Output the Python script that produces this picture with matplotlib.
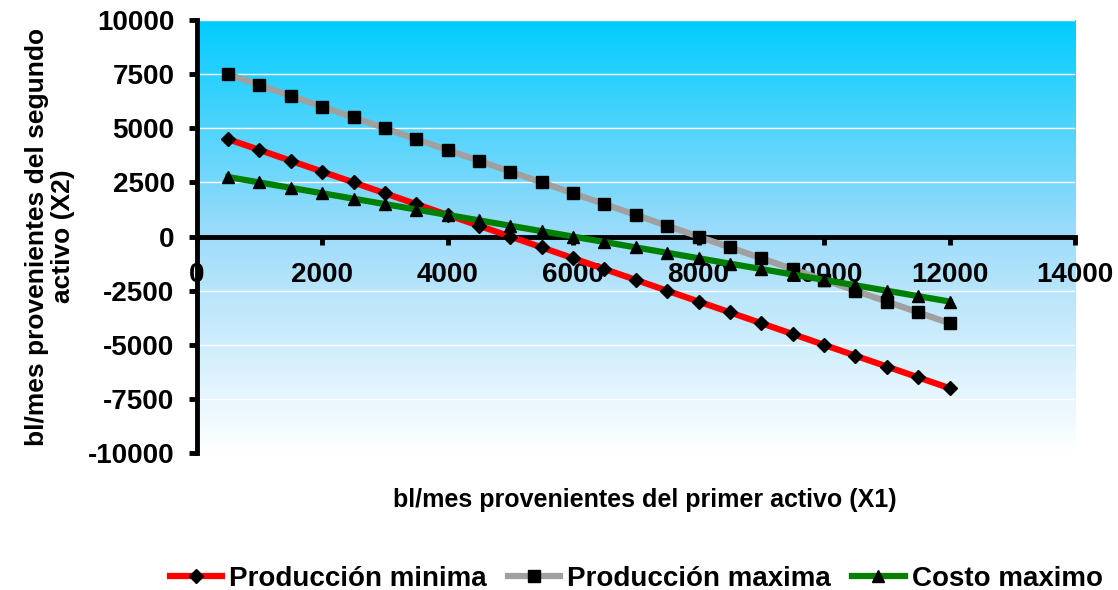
import numpy as np
import matplotlib
matplotlib.use('Agg')
import matplotlib.pyplot as plt
from matplotlib.colors import LinearSegmentedColormap

plt.rcParams['font.family'] = ['Liberation Sans', 'DejaVu Sans']
plt.rcParams['font.weight'] = 'bold'
plt.rcParams['axes.unicode_minus'] = False

x1 = [500, 1000, 1500, 2000, 2500, 3000, 3500, 4000, 4500, 5000, 5500, 6000,
      6500, 7000, 7500, 8000, 8500, 9000, 9500, 10000, 10500, 11000, 11500, 12000]
prod_min = [4500, 4000, 3500, 3000, 2500, 2000, 1500, 1000, 500, 0, -500, -1000,
            -1500, -2000, -2500, -3000, -3500, -4000, -4500, -5000, -5500, -6000, -6500, -7000]
prod_max = [7500, 7000, 6500, 6000, 5500, 5000, 4500, 4000, 3500, 3000, 2500, 2000,
            1500, 1000, 500, 0, -500, -1000, -1500, -2000, -2500, -3000, -3500, -4000]
costo_max = [2750, 2500, 2250, 2000, 1750, 1500, 1250, 1000, 750, 500, 250, 0,
             -250, -500, -750, -1000, -1250, -1500, -1750, -2000, -2250, -2500, -2750, -3000]

fig = plt.figure(figsize=(11.18, 5.9), dpi=100)
ax = fig.add_axes([0.176, 0.232, 0.7855, 0.734])

# fondo degradado
cmap = LinearSegmentedColormap.from_list('bg', ['#ffffff', '#9fdcfa', '#00ccff'])
grad = np.linspace(0, 1, 256).reshape(-1, 1)
ax.imshow(grad, cmap=cmap, aspect='auto', origin='lower',
          extent=[0, 1, 0, 1], transform=ax.transAxes, zorder=0)

ax.set_xlim(0, 14000)
ax.set_ylim(-10000, 10000)
ax.set_xticks(range(0, 14001, 2000))
ax.set_yticks(range(-10000, 10001, 2500))
ax.yaxis.grid(True, color='white', linewidth=1)
ax.set_axisbelow(True)

ax.plot(x1, prod_min, color='red', lw=4.5, marker='D', ms=7, mfc='black', mec='black',
        label='Producción minima', zorder=3)
ax.plot(x1, prod_max, color='#a0a0a0', lw=4.5, marker='s', ms=8, mfc='black', mec='black',
        label='Producción maxima', zorder=3)
ax.plot(x1, costo_max, color='green', lw=4.5, marker='^', ms=9, mfc='black', mec='black',
        label='Costo maximo', zorder=3)

ax.spines['top'].set_visible(False)
ax.spines['right'].set_visible(False)
ax.spines['bottom'].set_position(('data', 0))
ax.spines['bottom'].set_linewidth(3.5)
ax.spines['left'].set_linewidth(3.5)
ax.spines['bottom'].set_zorder(2)

ax.tick_params(axis='x', direction='out', length=6, width=3.5, pad=12, labelsize=20)
ax.tick_params(axis='y', direction='out', length=6, width=3.5, pad=10, labelsize=20)
for lbl in ax.get_xticklabels() + ax.get_yticklabels():
    lbl.set_fontweight('bold')

ax.set_xlabel('bl/mes provenientes del primer activo (X1)', fontsize=18, fontweight='bold')
ax.xaxis.set_label_coords(0.51, -0.08)
ax.set_ylabel('bl/mes provenientes del segundo\nactivo (X2)', fontsize=19, fontweight='bold',
              linespacing=1.1)
ax.yaxis.set_label_coords(-0.139, 0.5)

fig.legend(loc='lower center', bbox_to_anchor=(0.569, -0.045), ncol=3, frameon=False,
           fontsize=20, handlelength=1.9, handletextpad=0.25, columnspacing=0.75)

fig.savefig('out.png', dpi=100)
